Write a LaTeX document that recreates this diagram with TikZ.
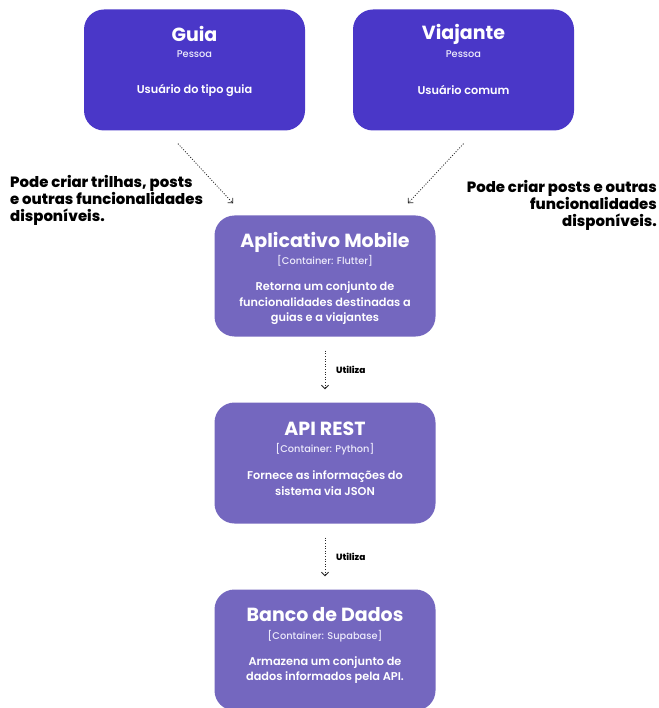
\documentclass[tikz,border=0pt]{standalone}
\usepackage{fontspec}
\setmainfont{Poppins}
\newfontfamily\psemi{Poppins SemiBold}
\newfontfamily\pbold{Poppins Bold}
\newfontfamily\pxbold{Poppins ExtraBold}
\newfontfamily\pmed{Poppins Medium}
\usetikzlibrary{arrows.meta,calc}
\definecolor{topbox}{HTML}{4A37C8}
\definecolor{lowbox}{HTML}{7467BF}
\definecolor{subtxt}{HTML}{ECEAFB}
\begin{document}
\begin{tikzpicture}[x=1pt,y=-1pt,
  box/.style={rounded corners=20pt, minimum width=221pt, minimum height=121pt, inner sep=0pt, draw=none},
  topb/.style={box, fill=topbox},
  lowb/.style={box, fill=lowbox},
  ttl/.style={text=white, font=\pbold\fontsize{19}{22}\selectfont, inner sep=0pt},
  sub/.style={text=subtxt, font=\pmed\fontsize{9.8}{11}\selectfont, inner sep=0pt},
  desc/.style={text=white, font=\psemi\fontsize{11.3}{15.5}\selectfont, align=center, inner sep=0pt},
  note/.style={text=black, font=\pxbold\fontsize{14.9}{17}\selectfont, inner sep=0pt},
  conn/.style={draw=black!85, line width=0.8pt, dash pattern=on 1pt off 1.6pt, -{Straight Barb[length=3.5pt,width=7pt,line width=0.8pt]}},
  lbl/.style={text=black, font=\pxbold\fontsize{9}{11}\selectfont, inner sep=0pt, anchor=west}
]
\useasboundingbox (0,0) rectangle (658,708);

% boxes
\node[topb] (guia) at (194.5,70) {};
\node[topb] (viaj) at (463.5,70) {};
\node[lowb] (mob) at (325,276) {};
\node[lowb] (api) at (325,463) {};
\node[lowb] (db) at (325,650) {};

% Guia texts
\node[ttl] (guiaT) at ($(guia.north)+(0,25)$) {Guia};
\node[sub] (guiaS) at ($(guia.north)+(0,45)$) {Pessoa};
\node[desc] (guiaD) at ($(guia.north)+(0,81)$) {Usuário do tipo guia};

% Viajante texts
\node[ttl] (viajT) at ($(viaj.north)+(0,25)$) {Viajante};
\node[sub] (viajS) at ($(viaj.north)+(0,45)$) {Pessoa};
\node[desc] (viajD) at ($(viaj.north)+(0,81)$) {Usuário comum};

% Mobile texts
\node[ttl] (mobT) at ($(mob.north)+(0,27)$) {Aplicativo Mobile};
\node[sub] (mobS) at ($(mob.north)+(0,46)$) {[Container: Flutter]};
\node[desc] (mobD) at ($(mob.north)+(0,88)$) {Retorna um conjunto de\\funcionalidades destinadas a\\guias e a viajantes};

% API texts
\node[ttl] (apiT) at ($(api.north)+(0,26)$) {API REST};
\node[sub] (apiS) at ($(api.north)+(0,47)$) {[Container: Python]};
\node[desc] (apiD) at ($(api.north)+(0,81)$) {Fornece as informações do\\sistema via JSON};

% DB texts
\node[ttl] (dbT) at ($(db.north)+(0,25)$) {Banco de Dados};
\node[sub] (dbS) at ($(db.north)+(0,47)$) {[Container: Supabase]};
\node[desc] (dbD) at ($(db.north)+(0,81)$) {Armazena um conjunto de\\dados informados pela API.};

% notes
\node[note, anchor=north west, align=left] (noteL) at (10,175.5) {Pode criar trilhas, posts\\e outras funcionalidades\\disponíveis.};
\node[note, anchor=north east, align=right] (noteR) at (657,180) {Pode criar posts e outras\\funcionalidades\\disponíveis.};

% connectors
\draw[conn] ($(guia.south)+(-16.5,13)$) -- ($(mob.north)+(-92,-12)$);
\draw[conn] ($(viaj.south)+(0,13)$) -- ($(mob.north)+(83,-12)$);
\draw[conn] ($(mob.south)+(0,14)$) -- coordinate[pos=0.5] (u1) ($(api.north)+(0,-13)$);
\draw[conn] ($(api.south)+(0,14)$) -- coordinate[pos=0.5] (u2) ($(db.north)+(0,-13)$);
\node[lbl] (l1) at ($(u1)+(11,0)$) {Utiliza};
\node[lbl] (l2) at ($(u2)+(11,0)$) {Utiliza};
\end{tikzpicture}
\end{document}
